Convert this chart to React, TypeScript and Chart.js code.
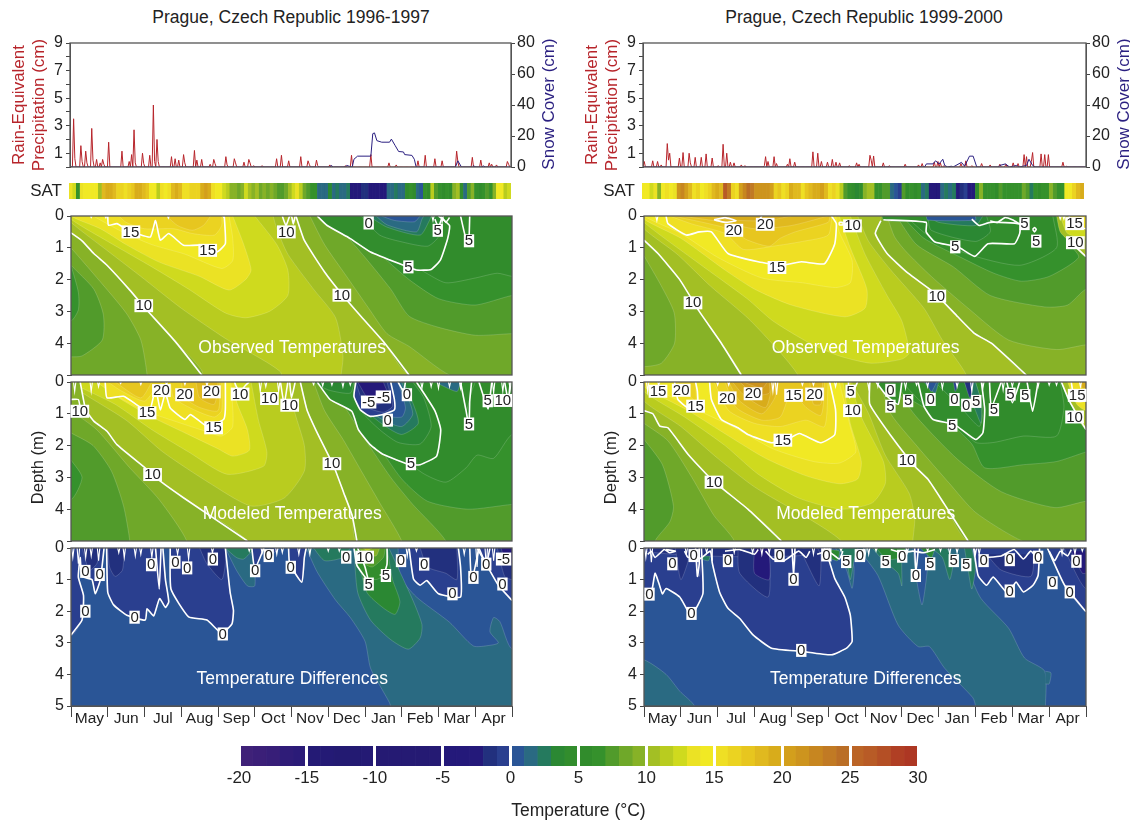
import React, { useEffect, useRef } from "react";
import { Chart, registerables } from "chart.js";
Chart.register(...registerables);

const FONT = "'Liberation Sans', Arial, sans-serif";
const months = ["May","Jun","Jul","Aug","Sep","Oct","Nov","Dec","Jan","Feb","Mar","Apr"];

// one colour per degree, -20 .. 29
const bandColors = [
"#3f2178","#3b1f78","#371e78","#2f1c78","#2b1b78",
"#241a75","#241a75","#231a72","#231a72","#241a74",
"#251a73","#251a73","#251a73","#251a73","#251a73",
"#24197a","#24197a","#24197a","#22307e","#2a3f8f",
"#2a5596","#2a6a82","#257a5e","#2b8833","#328d2d",
"#318c2c","#35912c","#519b2b","#6fa829","#87b227",
"#a3bf24","#b9cc1f","#cfda1e","#ebe224","#f1e924",
"#efdf24","#ebd321","#e7c61f","#e0b91f","#d8ac1b",
"#d39f1c","#cd941e","#c78620","#c17a24","#ba6e26",
"#bb6426","#b85b26","#b44f25","#b03f24","#ad3723"];
const colorOf = (t:number)=>bandColors[Math.max(0,Math.min(49,Math.floor(t)+20))];

// sparse [day, cm] rain-equivalent precipitation
const precip96 = [[3,3.5],[4,.6],[9,1.55],[10,.4],[13,1.15],[14,.3],[18,2.8],[19,.5],[22,.55],[25,.3],[27,.55],[28,.2],[32,1.8],[43,1.15],[49,.4],[51,.9],[53,2.7],[54,.3],[60,1.0],[61,.25],[66,.85],[69,4.5],[70,.4],[72,2.0],[73,.4],[84,.75],[87,.6],[90,.5],[94,.9],[95,.3],[103,1.2],[105,.5],[109,.55],[116,.2],[119,.55],[120,.25],[129,.75],[130,.15],[136,.6],[137,.3],[144,.35],[148,.55],[149,.3],[152,.1],[159,.1],[171,.6],[175,.85],[181,.45],[191,.75],[197,.45],[198,.2],[204,.5],[205,.1],[215,.15],[228,.1],[233,.85],[249,.9],[264,.3],[270,.15],[288,.45],[294,.85],[302,.6],[308,.45],[320,1.15],[321,.4],[333,.7],[340,.5],[347,.3],[349,.2],[353,.15],[362,.4],[363,.2]];
const precip99 = [[1,.4],[8,.45],[12,.4],[15,.15],[20,1.7],[21,.5],[22,1.0],[30,.65],[33,1.05],[38,1.0],[39,.3],[43,.7],[48,.7],[52,.95],[57,.65],[62,.1],[66,1.65],[69,1.0],[72,.35],[75,.3],[81,.15],[84,.1],[100,.1],[101,.75],[103,.4],[108,.75],[110,.25],[119,.2],[121,.6],[125,.35],[140,1.1],[144,1.0],[147,.4],[152,.35],[156,.55],[159,.35],[162,.3],[170,.1],[176,.3],[178,.2],[187,.85],[188,.5],[190,.8],[198,.3],[203,.1],[216,.2],[227,.15],[230,.25],[240,.35],[243,.4],[245,.3],[248,.1],[262,.25],[266,.45],[271,.1],[279,.25],[286,.15],[294,.2],[299,.2],[305,.3],[309,.25],[314,.9],[316,.75],[320,.4],[321,1.05],[328,.95],[331,.9],[334,.9],[346,.35],[349,.05]];
// [day, cm] snow cover
const snow96 = [[0,0],[215,0],[216,1],[218,0],[228,0],[229,1],[231,.5],[233.6,0],[235,5],[238,7],[249,7],[250.6,21.5],[252,22],[254,17],[258,16],[264.5,16],[266,18],[269,14],[272,10],[276,9.7],[277,8],[283,7.5],[285,5],[286.5,0],[319,0],[321,4],[324,0],[333,0],[334,.7],[336,0],[341,0],[342,.7],[344,0],[365,0]];
const snow99 = [[0,0],[232,0],[233.5,2],[239,2],[241,4],[244,2],[247,5],[248.6,1],[251,0],[254,.5],[255.5,0],[262.4,3],[265,.5],[269,7],[272,7],[275,0],[293,0],[294,1],[298.6,2],[302,0],[307.7,1],[310,0],[316,1],[318,5],[321,1],[323,0],[365,0]];
// surface air temperature, one value per three days
const sat96 = [13,12,6,13,14,14,14,14,10,18,19,19,18,16,16,15,16,17,19,19,18,17,14,14,11,15,14,15,18,19,18,15,15,16,16,16,19,20,19,15,14,14,12,11,9,9,8,9,12,10,9,10,8,9,8,9,8,7,
7,8,10,12,13,11,8,7,6,6,1,1,1,3,1,2,1,1,2,-3,-4,-4,-2,-2,-3,-4,-5,-4,-4,1,1,2,1,1,5,6,5,1,0,6,5,11,7,6,5,6,5,9,10,4,1,7,9,6,5,6,7,6,9,14,14,11,12];
const sat99 = [14,14,12,13,9,14,15,14,13,21,22,20,18,15,16,14,15,16,18,19,18,26,23,16,15,20,22,24,23,21,21,21,21,20,16,17,15,16,19,18,18,15,17,18,19,19,20,18,15,16,13,11,7,6,4,3,4,9,10,10,
6,6,7,7,1,0,-1,7,4,6,5,6,1,2,-3,-3,-4,1,2,1,2,-3,-2,-1,-3,-4,5,9,6,6,6,5,7,6,6,6,6,6,8,7,2,6,5,6,6,9,7,6,6,14,14,16,18,19];

// Isotherms: flat month, depth lists
const c15A = [1,0,1.02,.29,1.25,.24,1.48,.4,1.8,.55,2.16,.66,2.3,.14,2.43,.76,2.66,.55,3.06,.92,3.5,.92,3.97,1.13,4.2,.87,4.17,0];
const c10LA = [0,.53,.3,.78,.62,1.18,.98,1.55,1.6,2.33,2.02,2.9,2.84,3.95,3.56,5];
const c10RA = [6.12,0,6.35,.77,6.9,1.76,7.4,2.5,7.9,3.17,8.5,3.95,9.2,5];
const c5A = [6.7,0,6.96,.29,7.6,.71,8.15,1.13,9.05,1.55,9.4,1.7,9.8,1.68,10.05,1.39,10.25,.71,10.3,.3,10,0];
const bandsA: [number,number[]][] = [
[10,[-1,-1,13,-1,13,6,-1,6]],
[11,[-1,-1,0,.2,1,1.1,1.9,1.9,3,2.9,4.2,3.85,5.7,4.9,5.75,5.5,7.3,5.5,7.35,5,7.4,4.4,7.2,3.2,6.6,2.3,5.9,1.2,5.6,.4,5.5,0]],
[12,[-1,-1,0,.1,1,.8,2.2,1.6,3.2,2.3,4.2,3.05,4.75,3.2,5.4,3,5.9,2.5,5.9,1.7,5.6,.9,5,0]],
[13,[-1,-1,0,0,.8,.4,1.5,.9,2.4,1.45,3.5,1.9,4.3,2.33,4.75,2,4.9,1.7,4.7,.9,4.4,0]],
[14,[.6,0,1.4,.5,2.2,.9,3.1,1.2,4.1,1.65,4.4,1.4,4.4,.7,4.3,0]],
[15,c15A],
[16,[1.3,0,1.5,.2,2,.4,2.8,.4,3.3,.55,3.9,.6,4.1,.3,4.1,0]],
[17,[2.6,0,2.9,.3,3.3,.45,3.6,.3,3.8,0]],
[9,[...c10RA,13,6,13,-1]],
[8,[6.5,0,6.9,.9,7.5,1.9,8.1,2.9,8.6,3.7,9.2,4.1,10.3,5,13,6,13,-1]],
[7,[7,0,7.4,.5,8,1.3,8.7,2.3,9.2,3.15,10,3.5,11,3.75,12,3.7,13,3.7,13,-1]],
[6,[7.2,0,7.8,.6,8.5,1.3,9.2,2,10,2.6,11,2.8,12,2.5,13,2.4,13,-1]],
[5,[7.3,0,8,.6,8.8,1.2,9.6,1.75,10.2,2.1,11,1.95,11.6,1.8,12,1.9,13,2,13,-1]],
[4,c5A],
[3,[7.9,0,8.4,.6,8.95,.8,9.7,.95,10,.65,10.1,0]],
[2,[8.1,0,8.6,.35,9.5,.6,9.75,.15,9.8,0]],
[1,[8.3,0,8.6,.28,9.4,.5,9.55,.1,9.6,0]],
[0,[8.45,0,8.8,.14,9.35,.18,9.5,0]],
[9,[...c10LA,-1,6,-1,.53]],
[8,[0,1,.6,1.8,1.5,3.05,1.9,3.9,2.07,5,2.1,6,-1,6,-1,1]],
[7,[0,1.55,.62,2.3,.88,3.1,.85,3.9,.3,4.4,0,4.43,-1,4.5,-1,1.5]],
[6,[0,1.55,.2,2.4,.2,2.95,0,3.3,-1,3.5,-1,1.5]],
];
const linesA = [c15A,c10LA,c10RA,c5A,[5.75,0,5.85,.3,5.95,0,6,0,6.05,.25,6.1,0],[10.6,0,10.72,.6,10.82,.9,10.85,0],[9.9,.1,10,.35,10.1,.05,10.2,.2,10.3,.05]];
const spikesA = [[.55,.05],[.95,.06],[2.65,.07],[4.15,.04],[9.85,.15],[10.1,.2]];
const labelsA: [number,number,string][] = [[1.63,.5,"15"],[3.72,1.08,"15"],[5.86,.5,"10"],[7.37,2.49,"10"],[1.98,2.82,"10"],[8.1,.22,"0"],[9.98,.45,"5"],[10.83,.78,"5"],[9.18,1.6,"5"]];

const c15B = [.93,0,.98,.5,1.43,.45,1.9,.8,2.15,.87,2.3,.2,2.43,.87,2.57,.35,2.7,.82,3.1,1.18,3.25,1.02,3.7,1.39,4.15,1.18,4.2,.87,4.2,0];
const c10LB = [.25,0,.4,.87,.62,1.23,.98,1.55,1.25,1.97,2.07,2.75,2.43,3.12,3.06,3.64,4.8,5];
const c10RB = [6.24,0,6.42,.87,6.7,1.6,7.15,2.65,7.42,3.48,7.65,4.2,7.78,5];
const c5B = [6.7,0,7.05,.55,7.64,.92,7.82,1.5,8.14,1.97,8.5,2.28,9.23,2.6,9.5,2.6,9.95,2.33,10.06,1.5,9.9,.9,9.4,0];
const c0B = [7.75,0,7.7,.45,7.87,.87,8.14,1.08,8.5,1.02,8.8,.87,8.8,.55,8.7,0];
const bandsB: [number,number[]][] = [
[10,[-1,-1,13,-1,13,6,-1,6]],
[11,[-1,-1,0,.1,1.5,1.2,2.5,2.2,3.8,3.2,4.9,3.9,5.8,3.65,6.35,2.8,6.35,2,6.1,1,5.9,0]],
[12,[-1,-1,0,0,1.2,.7,2.2,1.5,3.2,2.2,4.24,2.9,5.24,2.65,5.33,2.2,5.1,1.2,4.9,0]],
[13,[.7,0,1.3,.5,2.2,1.1,3.1,1.6,4,2.1,4.4,2.33,4.85,2.15,4.8,1.5,4.5,.6,4.45,0]],
[14,[.9,0,1.2,.4,2,.9,3,1.3,3.8,1.6,4.1,1.7,4.4,1.4,4.35,0]],
[15,c15B],
[16,[1,0,1.4,.3,2,.6,2.3,.2,2.5,0]],
[16,[2.7,0,2.8,.5,3.4,.9,3.9,1.1,4.1,.9,4.1,0]],
[17,[3,0,3.1,.5,3.5,.8,4,.9,4.05,0]],
[17,[1.2,0,1.9,.5,2.2,0]],
[18,[3.4,0,3.5,.5,3.9,.7,4,0]],
[9,[...c10RB,13,6,13,-1]],
[8,[6.6,0,6.9,.9,7.4,1.8,7.9,2.8,8.4,3.8,9,5,9.2,6,13,6,13,-1]],
[7,[6.9,0,7.4,.7,8,1.8,8.7,3,9.3,3.85,10.2,5,10.4,6,13,6,13,-1]],
[6,[7.05,0,7.6,.8,8.3,1.9,9,3.05,9.7,3.75,10.8,4,12,3.85,13,3.8,13,-1]],
[5,[7.4,0,7.9,.8,8.7,2,9.55,2.85,10.2,3.15,10.75,2.7,11.05,2.3,11.5,2.4,12,1.65,13,1.4,13,-1]],
[4,c5B],
[4,[10.6,0,10.75,.9,10.9,.3,11,0]],
[3,[7.7,0,7.9,.9,8.4,1.5,8.9,1.9,9.5,1.95,9.8,1.4,9.6,.5,9.3,0]],
[2,[7.72,0,8.05,.9,8.5,1.35,9,1.65,9.45,1.3,9.25,.5,9.05,0]],
[1,[7.72,0,8,.8,8.5,1.2,9,1.4,9.3,1,9,0]],
[0,[7.72,0,8.05,.7,8.5,1.05,9,1.1,9.1,.8,8.9,0]],
[-1,c0B],
[-2,[7.75,0,8,.75,8.5,.95,8.75,.75,8.6,0]],
[-5,[7.8,0,8.2,.7,8.65,.55,8.5,0]],
[3,[6.6,0,7,.25,7.6,.35,7.7,0]],
[1,[9.9,0,10.5,.3,10.6,0]],
[9,[...c10LB,4.9,6,-1,6,-1,0]],
[8,[0,.9,.7,1.5,1.6,2.7,2.4,3.7,3.15,5,3.2,6,-1,6,-1,.9]],
[7,[0,1.6,.6,2,1.1,2.8,1.43,3.9,1.6,5,1.65,6,-1,6,-1,1.6]],
[6,[0,2.45,.3,3,0,3.7,-1,3.8,-1,2.4]],
];
const linesB = [c15B,c10LB,c10RB,c5B,c0B,[0,.55,.2,.55,.25,.8],[10.6,0,10.75,.9,10.83,1.4,10.85,.6,10.9,0],[11.1,0,11.35,.85,11.45,0],[11.8,0,11.9,.6,11.95,0],[5.7,0,5.8,.7,5.9,0],[6.1,0,6,.5,5.95,0],[4.45,0,4.5,.15,4.6,.3,4.75,.1,4.85,0],[8.9,0,9.05,.3,9.1,0]];
const spikesB = [[.1,.3],[.55,.3],[.75,.15],[1.35,.05],[1.9,.08],[2.6,.1],[3.1,.08],[3.7,.12],[5.15,.3],[5.3,.15],[5.65,.3],[6.6,.08],[6.85,.12],[7.1,.1],[7.4,.15],[7.6,.1],[9.55,.2],[9.8,.15],[10,.2],[10.3,.15],[10.6,.2],[11.5,.35],[11.75,.3],[11.95,.25]];
const labelsB: [number,number,string][] = [[.24,.92,"10"],[2.07,.97,"15"],[2.46,.27,"20"],[3.09,.4,"20"],[3.82,.31,"20"],[3.88,1.44,"15"],[4.6,.38,"10"],[5.4,.52,"10"],[5.95,.73,"10"],[7.1,2.57,"10"],[2.22,2.91,"10"],[8.1,.63,"-5"],[8.5,.47,"-5"],[9.14,.4,"0"],[8.62,1.2,"0"],[10.83,1.32,"5"],[11.34,.59,"5"],[11.75,.58,"10"],[9.25,2.57,"5"]];

const z1C = [-1,-1,0,2.75,.3,2.28,.34,1.5,.2,.92,.25,.3,.3,.9,.57,1,.66,1.45,.8,1,.9,0];
const z2C = [.97,0,1,1.4,1.16,1.8,1.52,2.13,2.02,2.28,2.07,1.92,2.25,2.15,2.41,1.6,2.57,1.88,2.66,1.7,2.57,1,2.5,0];
const z3C = [2.7,0,2.72,1.3,3.2,2.18,3.7,2.28,4.1,2.7,4.38,2.4,4.42,1.97,4.33,1.4,4.2,0];
const z4C = [9.2,0,9.32,.98,9.5,1.18,9.68,1.03,10,1.45,10.6,1.55,10.6,.6,10.54,0];
const z5C = [11.05,0,11.63,1.18,12,1.66,13,2,13,-1];
const z6C = [5.92,0,5.95,.5,6.28,1.08,6.35,.3,6.4,0];
const bandsC: [number,number[]][] = [
[0,[-1,-1,13,-1,13,6,-1,6]],
[1,[6.4,0,6.7,.76,7.2,1.65,7.6,2.2,8,2.95,8.15,3.8,8.5,4.55,8.7,5,8.75,6,13,6,13,3.3,12,3.2,11.67,2.33,11.5,2.2,11.4,2.65,11.63,3,11.4,3.08,10.95,3.1,10.3,2.35,9.4,1.55,8.95,.9,8.9,0]],
[1,[4.2,0,4.5,.7,4.8,1.2,5,1.2,5,.5,5.1,0]],
[2,[7.7,0,7.8,1.4,8.15,2.28,8.7,2.9,9.18,3.2,9.5,2.85,9.55,2.43,9.32,1.7,8.87,.55,8.65,0]],
[2,[4.2,0,4.5,.3,4.7,.35,5,0]],
[2,[6.6,0,6.9,.4,7.4,.3,7.6,0]],
[3,[7.75,0,8.05,1.4,8.5,1.9,8.82,2.1,8.95,1.7,8.75,1,8.6,0]],
[4,[7.72,0,7.78,.55,8,.92,8.3,1,8.5,.87,8.6,.5,8.6,0]],
[7,[7.78,0,8,.5,8.2,.6,8.5,.3,8.55,0]],
[9,[7.85,0,8,.2,8.3,.25,8.4,0]],
[11,[7.95,0,8.05,.08,8.2,0]],
[-1,z1C],[-1,z2C],[-1,z3C],[-1,z4C],[-1,z5C],[-1,z6C],
[-1,[4.92,0,5,.66,5.25,0]],[-1,[5.4,0,5.5,.15,5.7,0]],
[-2,[1,0,1.05,.6,1.2,.9,1.4,.7,1.45,0]],
[-2,[3.5,0,3.7,.5,4.1,1,4.2,.5,4.2,0]],
[-2,[9.5,0,9.7,.6,10.2,.8,10.5,1,10.5,0]],
[-2,[11.6,0,11.8,.9,12,1,13,1,13,-1]],
[-2,[.3,0,.5,.7,.7,.5,.8,0]],
[-3,[11.7,0,11.85,.5,12,.5,13,.5,13,-1]],
];
const linesC = [z1C.slice(2),z2C,z3C,z4C,z5C.slice(0,6),z6C,[4.92,0,5,.66,5.25,0],[7.7,0,7.78,.55,8,.92,8.1,1.1,8,.6,7.8,0],[8.4,.85,8.5,.87,8.6,.5,8.6,0],[10.85,0,10.9,1.08,11.1,0],[11.1,0,11.3,.5,11.4,0],[2.3,0,2.4,1.3,2.45,0]];
const spikesC = [[.05,.3],[.2,.5],[.4,.3],[.55,.25],[.75,.4],[1.3,.15],[1.45,.3],[1.75,.25],[1.9,.2],[2.2,.3],[2.9,.2],[3.2,.35],[3.85,.15],[4.85,.1],[5.2,.15],[5.6,.2],[5.75,.15],[6.2,.2],[6.5,.2],[7,.1],[7.3,.1],[9.15,.25],[9.4,.1],[10.7,.2],[11.05,.6],[11.3,.6],[11.5,.4]];
const labelsC: [number,number,string][] = [[.39,.74,"0"],[.78,.84,"0"],[.39,2,"0"],[2.18,.53,"0"],[1.73,2.19,"0"],[2.84,.45,"0"],[3.16,.63,"0"],[3.86,.35,"0"],[4.13,2.72,"0"],[5.01,.72,"0"],[5.38,.24,"0"],[5.98,.61,"0"],[7.49,.29,"0"],[7.99,.29,"10"],[8.1,1.14,"5"],[8.57,.87,"5"],[8.98,.4,"0"],[9.61,.51,"0"],[10.38,1.45,"0"],[10.95,.93,"0"],[11.3,.51,"0"],[11.74,1.14,"0"],[11.77,.35,"-5"]];

const c15D = [.6,0,.65,.24,1.15,.6,1.5,.5,1.83,.5,2.28,1.18,3.1,1.44,3.73,1.55,4.27,1.44,4.9,1.5,5.18,.87,5.22,.24,5.09,0];
const c10LD = [0,.76,.38,1.18,.97,2,1.5,3,2.1,4,2.64,5];
const c10RD = [6.43,.15,6.28,.55,6.6,1.18,7.17,1.8,7.9,2.43,8.52,3.17,8.98,3.7,9.43,4,10.38,5];
const c5D = [6.5,.12,7.66,.2,7.66,.5,7.9,.82,8.52,.97,8.98,1.27,9.34,.87,10.06,.87,10.2,.55,10.2,.25,9.4,.2,9.1,.3,8.9,.1];
const bandsD: [number,number[]][] = [
[10,[-1,-1,13,-1,13,6,-1,6]],
[11,[-1,-1,0,.4,.9,1.2,1.8,2.2,2.9,3.3,4.18,5,4.3,6,8.9,6,8.75,5,8.1,3.9,7.6,2.9,6.7,1.7,6.1,.8,5.8,0]],
[12,[-1,-1,0,.2,1.5,1.5,2.8,2.6,3.5,3.3,4.5,4,5.3,4.4,6.17,4.63,7,4.5,7.2,4.3,7,3.3,6.6,2.5,6,1.2,5.6,0]],
[13,[-1,-1,0,.1,1,.7,2.2,1.7,3,2.3,4,2.8,5.45,3.17,6,2.9,6.05,2.3,5.6,1,5.3,0]],
[14,[-1,-1,0,0,1,.55,2,1.3,3.2,1.95,4.3,2.1,5.2,2.25,5.6,2.1,5.65,1.4,5.3,.5,5.2,0]],
[15,c15D],
[16,[.7,0,1.3,.25,2.2,.55,2.7,1.05,3.5,.95,4.3,.8,5,.6,5.1,0]],
[17,[.8,0,2.3,.4,2.8,.75,3.4,.95,3.7,.7,4.1,.5,5,.2,5.05,0]],
[18,[1,0,2.2,.2,3,.4,4,.3,5,0]],
[19,[1.8,0,2.3,.12,3.3,.15,4,0]],
[9,[6.43,-.5,...c10RD,13,6,13,-1]],
[8,[6.6,0,6.8,.65,7.1,1.1,7.8,1.9,8.8,2.9,9.9,3.9,11.2,4.2,12,4.05,13,4,13,-1]],
[7,[6.85,0,7.4,.9,8.4,1.6,9.4,2.5,10.88,2.86,11.5,2.8,12,2.3,13,2,13,-1]],
[6,[7,0,7.6,.7,8.6,1.3,9.5,1.8,10.24,2.05,11,1.9,11.8,1.3,11.5,.8,11.3,0]],
[5,[7.1,0,7.7,.6,8.8,1.2,10.2,1.55,11.2,1,11.1,0]],
[4,[6.5,-.5,...c5D]],
[3,[7.7,0,7.8,.45,9,.8,9.4,.5,9.3,0]],
[2,[7.7,0,8,.2,9,.3,9.2,0]],
[0,[7.66,0,7.7,.13,9,.13,9,0]],
[10,[11.2,0,11.3,.5,11.55,.8,12,1.28,13,1.5,13,-1]],
[12,[11.3,0,11.5,.55,12,.7,13,.7,13,-1]],
[15,[11.55,0,11.55,.3,12,.4,13,.4,13,-1]],
[9,[...c10LD,2.7,6,-1,6,-1,.76]],
[8,[0,1.25,.47,2.2,.82,3.05,.83,4,.47,4.63,0,4.74,-1,4.8,-1,1.2]],
];
const linesD = [c15D,c10LD,c10RD,c5D,[11.53,.76,12,1.28],[11.55,0,11.55,.3,12,.4],[1.9,.12,2.2,.2,2.5,.15,2.2,.05,1.9,.12],[3.2,0,3.1,.18,3.3,.25],[9.4,.15,9.6,.2,9.8,.05,10,.12,10.2,.25],[10.55,.42,10.6,.5,10.65,.42,10.6,.36,10.55,.42],[5.3,.2,5.4,.2,5.4,.28,5.3,.28,5.3,.2]];
const spikesD = [[.35,.15],[11.4,.1],[11.3,.1]];
const labelsD: [number,number,string][] = [[2.44,.45,"20"],[3.29,.26,"20"],[3.61,1.62,"15"],[5.66,.31,"10"],[1.33,2.73,"10"],[7.95,2.52,"10"],[10.33,.24,"5"],[8.45,.97,"5"],[10.65,.79,"5"],[11.69,.24,"15"],[11.71,.84,"10"]];

const c15E1 = [.83,0,.92,.55,1.2,.82,1.45,.82,1.45,.3,1.4,0];
const c15E2 = [1.78,0,1.83,.55,2.1,1.18,2.55,1.44,2.82,1.65,3.46,1.91,3.9,1.8,4.22,1.62,4.8,1.91,5.18,1.65,5.2,.87,5.04,0];
const c10LE = [0,.9,.24,1,.43,1.39,.65,1.44,1.2,2.28,1.83,3.06,2.82,4,3.73,5];
const c10RE = [6.13,0,6.13,.7,6.71,1.7,7.35,2.65,7.71,3.06,8.16,3.85,8.8,5];
const c5E = [7.44,0,7.6,.76,7.85,1.18,8.43,1.34,9,1.81,9.2,1.6,9.25,.87,9.16,0];
const bandsE: [number,number[]][] = [
[10,[-1,-1,13,-1,13,6,-1,6]],
[11,[-1,-1,0,.6,1,1.4,2,2.4,3,3.3,5.36,5,5.4,6,7.3,6,7.3,5,7.35,4.3,7.2,3.5,6.55,2.3,6.1,1,5.63,0]],
[12,[-1,-1,0,.3,1.1,1.1,2.2,2,3.1,2.9,4.2,3.65,5.36,4,6.2,3.8,6.55,3.2,6.5,2.5,5.9,1.1,5.6,0]],
[13,[-1,-1,0,.15,1.2,.9,2.3,1.7,3.3,2.4,4.4,2.95,5.3,3.2,5.8,3.05,5.9,2.5,5.6,1.3,5.4,0]],
[14,[-1,-1,0,0,1.3,.8,2.4,1.4,3.5,2.1,4.6,2.5,5.3,2.55,5.75,2.2,5.6,1.4,5.3,0]],
[15,c15E1],[15,c15E2],
[16,[.9,0,1.4,.6,1.4,0]],
[16,[1.9,0,2.3,.9,3,1.3,3.7,1.4,4.4,1.2,4.9,1.4,5,0]],
[17,[2.2,0,2.5,.8,3.2,1.2,3.7,1.1,4,.3,4.4,.8,4.8,1.05,4.9,.3,4.9,0]],
[18,[2.3,0,2.6,.6,3.2,1,3.55,.5,3.6,0]],[18,[4.5,0,4.6,.7,4.8,.7,4.85,0]],
[19,[2.4,0,2.7,.4,3.3,.8,3.5,0]],
[20,[2.6,0,3,.4,3.4,.35,3.4,0]],
[21,[2.7,0,3.2,.2,3.35,0]],
[9,[...c10RE,13,6,13,-1]],
[8,[6.4,0,6.7,1,7.4,2,8.3,3.2,9,4.1,10.27,5,13,6,13,-1]],
[7,[6.7,0,7.4,1.1,8.52,2.44,9.7,3.45,11.15,3.95,12,3.75,13,3.7,13,-1]],
[6,[6.8,0,7.1,.45,8.2,1.2,8.9,1.95,9.25,2.7,10.3,2.6,11.2,2.5,12,2.2,13,1.9,13,-1]],
[5,[7,0,7.6,.7,8.5,1.3,9,1.9,9.5,1.9,10.3,1.7,11.2,1.7,11.4,.8,11.3,0]],
[4,c5E],[4,[6.3,0,6.6,.45,6.9,.7,7,0]],[4,[9.38,0,9.43,.8,9.7,0]],
[3,[7.9,0,8.6,.8,9.1,1.4,9.2,.9,9,0]],
[1,[7.6,0,7.9,.35,8,0]],[2,[8.7,0,9,.9,9.15,1.3,9.15,.6,9,0]],
[0,[7.65,0,7.8,.3,7.95,0]],[-1,[8.4,0,8.45,.3,8.55,0]],[-2,[8.7,0,8.85,.5,8.95,0]],
[10,[11.33,0,11.55,.6,12,1.5,13,1.8,13,-1]],
[13,[11.5,0,11.75,.7,12,.9,13,.9,13,-1]],
[15,[11.6,0,11.7,.6,12,.6,13,.6,13,-1]],
[19,[11.85,0,11.9,.2,12,.2,13,.2,13,-1]],
[9,[...c10LE,3.9,6,-1,6,-1,.9]],
[8,[0,1.3,.65,1.85,1.3,3,1.9,4.2,2.45,5,2.5,6,-1,6,-1,1.3]],
[7,[0,1.8,.5,2.6,.8,3.9,.7,4.4,.3,5,.1,6,-1,6,-1,1.8]],
];
const linesE = [c15E1,c15E2,c10LE,c10RE,c5E,[6.3,0,6.6,.45,6.9,.7,7,0],[9.38,0,9.43,.8,9.7,0],[9.85,0,10,.65,10.2,0],[10.4,0,10.55,.92,10.7,0],[11.33,0,11.55,.6,12,1.5],[11.6,0,11.7,.6,12,.6],[5.55,0,5.58,.5,5.8,0]];
const spikesE = [[.1,.3],[.4,.1],[2,.1],[2.3,.1],[3.5,.3],[3.6,.4],[4.3,.1],[4.6,.1],[5.2,.15],[6.1,.2],[6.35,.15],[7.1,.2],[7.4,.1],[7.7,.15],[8.1,.2],[8.5,.15],[8.9,.3],[9.2,.2],[9.75,.25],[10,.15],[10.7,.15],[11,.1],[11.2,.1],[11.85,.15]];
const labelsE: [number,number,string][] = [[.38,.29,"15"],[1.01,.26,"20"],[1.4,.76,"15"],[2.26,.5,"20"],[2.96,.37,"20"],[4.06,.42,"15"],[4.63,.38,"20"],[3.77,1.83,"15"],[5.61,.29,"5"],[5.66,.9,"10"],[1.9,3.15,"10"],[7.14,2.47,"10"],[6.69,.26,"0"],[7.17,.59,"5"],[6.69,.76,"5"],[7.78,.55,"0"],[8.43,.55,"0"],[8.75,.73,"0"],[9.02,.61,"5"],[9.5,.87,"5"],[9.95,.38,"5"],[10.35,.43,"5"],[8.37,1.36,"5"],[11.76,.42,"15"],[11.69,1.1,"10"]];

const z1F = [-1,-1,0,1.5,.2,1.4,.3,.8,.4,1.1,.5,1.45,.6,1.28,.97,1.55,1.2,2,1.33,2.07,1.6,1.44,1.56,0];
const z2F = [1.85,0,1.85,.45,2.05,1.39,2.28,1.91,2.6,2.23,2.96,2.75,3.46,3.17,4.27,3.27,5.09,3.38,5.5,3.17,5.65,2.96,5.6,2.12,5.45,1.55,5.18,.97,5.04,.45,4.9,0];
const z3F = [8.95,0,9.07,.87,9.3,1.18,9.48,.92,9.88,1.44,10.1,1.08,10.3,1.39,10.56,1.18,10.7,.87,10.74,0];
const z4F = [10.95,0,11.42,1.18,12,2.02,13,2.5,13,-1];
const bandsF: [number,number[]][] = [
[0,[-1,-1,13,-1,13,6,-1,6]],
[1,[5.8,0,6.35,.87,6.9,2.44,7.44,3.12,7.75,3.12,8.16,3.8,8.93,4.74,9,5,9.1,6,10.9,6,10.9,5,10.88,3.9,10.33,3.48,9.9,2.54,9.15,1.6,8.88,.87,8.88,0]],
[1,[5.2,0,5.5,.7,5.65,1.28,5.7,.6,5.5,0]],
[1,[-1,3.4,0,3.54,.6,4,.97,4.53,1.37,5,1.5,6,-1,6]],
[1,[10.9,3.9,11.05,3.95,11,4.3,10.9,4.3]],
[0,[7.3,0,7.4,1,7.55,1.8,7.7,.6,7.7,0]],
[2,[5.3,0,5.5,.4,5.6,1,5.7,.4,5.8,0]],
[2,[6.2,0,6.5,.4,6.9,.8,7,1.2,7,.4,7.1,0]],
[2,[7.8,0,8.1,.3,8.3,1,8.4,.3,8.2,0]],
[2,[8.7,0,8.8,.7,8.9,1.3,9,.6,8.9,0]],
[3,[6.3,0,6.6,.35,7,.3,7.1,0]],
[3,[7.5,0,7.8,.3,7.9,0]],
[2,[.3,.05,.55,.1,.5,.35,.35,.35]],[2,[1.5,.05,1.8,.1,1.75,.4,1.55,.35]],[2,[3.85,.05,4.2,.1,4.1,.4,3.9,.35]],[3,[5.05,.05,5.3,.1,5.25,.4,5.1,.35]],[2,[10.3,.1,10.55,.1,10.5,.4,10.35,.35]],[2,[11,.1,11.2,.1,11.15,.35,11.05,.35]],
[-1,z1F],[-1,z2F],[-1,z3F],[-1,z4F],
[-1,[4.1,0,4.06,.9,4.15,0]],[-1,[7.35,0,7.38,.8,7.45,0]],[-1,[1.4,0,1.5,.9,1.6,0]],
[-2,[-1,-1,0,.1,5,.15,5,-1]],
[-2,[.85,0,1,1,1.2,.4,1.2,0]],
[-2,[2.55,0,2.6,.8,3.37,1.55,3.4,0]],
[-2,[4.3,.2,4.75,1.2,4.8,.3,4.7,0,4.3,0]],
[-2,[9.3,.2,9.7,.7,10.5,.9,10.6,.2]],
[-2,[11.4,0,12,1.3,13,1.5,13,-1]],
[-3,[3,0,3,.8,3.4,1,3.4,0]],
[-3,[11.6,.1,11.9,.8,12,.8,13,.8,13,.1]],
];
const linesF = [z1F.slice(2),z2F,z3F,z4F.slice(0,6),[4.02,0,4.06,.9,4.1,0],[7.35,0,7.38,.8,7.45,0],[1.4,0,1.45,.9,1.5,.5,1.5,0],[.1,.2,.2,.1,.3,.3,.55,.05,.7,.15,.85,.1,.6,.05],[1.1,.1,1.2,.3,1.4,.15,1.5,.35,1.8,.1,1.85,.4],[2.2,.1,2.6,.05,3,.2,3.1,.05],[3.3,.1,3.5,.35,3.8,.4,4.2,.1,4.4,.3,4.5,.1],[4.7,.2,5,.1,5.3,.35,5.4,.1],[9.25,.3,9.7,.25,10.05,.05,10.3,.35,10.5,.1,10.7,.35],[11,.1,11.15,.4,11.3,.1,11.5,.25,11.6,.05],[6.7,.05,7,.15,7.3,.1,7.6,.15,7.9,.05]];
const spikesF = [[.05,.3],[.2,.45],[1.15,.2],[1.7,.15],[2.45,.15],[2.95,.15],[3.2,.2],[3.4,.15],[4.6,.2],[5,.2],[5.35,.1],[6,.3],[6.1,.2],[6.3,.1],[7.15,.15],[7.7,.1],[8.05,.1],[8.3,.2],[8.5,.15],[9,.2],[9.1,.2],[11.35,.2],[11.7,.2],[11.9,.1]];
const labelsF: [number,number,string][] = [[.77,.5,"0"],[.15,1.46,"0"],[1.35,.24,"0"],[1.29,2.07,"0"],[2.28,.4,"0"],[3.68,.24,"0"],[4.06,.99,"0"],[4.95,.22,"0"],[4.27,3.24,"0"],[5.49,.43,"5"],[5.86,.24,"0"],[6.56,.43,"5"],[7.01,.26,"0"],[7.38,.87,"0"],[7.77,.5,"5"],[8.41,.4,"5"],[8.75,.53,"5"],[9.22,.4,"0"],[9.93,.37,"0"],[9.93,1.36,"0"],[10.7,.29,"0"],[11.09,1.1,"0"],[11.56,1.39,"0"],[11.74,.42,"0"]];

const toPts = (a:number[]) => { const o:any[]=[]; for(let i=0;i<a.length;i+=2) o.push({x:a[i],y:a[i+1]}); return o; };
const hexA = "rgba(255,255,255,0.28)";

function contourDatasets(bands:[number,number[]][], lines:number[][], spikes:number[][]) {
  const ds:any[] = [];
  bands.forEach(([t,pts],i)=>ds.push({data:toPts(pts),fill:"shape",backgroundColor:colorOf(t),borderColor:i===0?"transparent":hexA,borderWidth:i===0?0:.6,tension:.22,pointRadius:0}));
  lines.forEach(l=>ds.push({data:toPts(l),fill:false,borderColor:"#fff",borderWidth:1.6,tension:.15,pointRadius:0}));
  spikes.forEach(([x,d])=>ds.push({data:[{x:x-.035,y:-.03},{x,y:d},{x:x+.035,y:-.03}],fill:false,borderColor:"#fff",borderWidth:1.1,tension:0,pointRadius:0}));
  const n=ds.length; ds.forEach((d,i)=>{d.order=n-i;});
  return ds;
}

const framePlugin = { id:"frame", afterDatasetsDraw(c:any){ const a=c.chartArea,x=c.ctx; x.save(); x.strokeStyle="#555"; x.lineWidth=1.3; x.strokeRect(a.left,a.top,a.width,a.height); x.restore(); } };
const labelPlugin = (labels:[number,number,string][],caption:string|null)=>({ id:"clabels", afterDatasetsDraw(c:any){
  const x=c.ctx; const sx=c.scales.x, sy=c.scales.y; x.save(); x.font=`15px ${FONT}`; x.textAlign="center"; x.textBaseline="middle";
  labels.forEach(([m,d,s])=>{ const px=sx.getPixelForValue(m),py=sy.getPixelForValue(d); const w=x.measureText(s).width+2; x.fillStyle="#fff"; x.fillRect(px-w/2,py-6.5,w,13); x.fillStyle="#222"; x.fillText(s,px,py+.5); });
  if(caption){ x.font=`17.5px ${FONT}`; x.fillStyle="#fff"; x.fillText(caption,sx.getPixelForValue(6.02),sy.getPixelForValue(4.15)); }
  x.restore(); } });
const snowTitlePlugin = { id:"snowTitle", afterDraw(c:any){ const a=c.chartArea,x=c.ctx; x.save(); x.translate(a.right+38,(a.top+a.bottom)/2-1); x.rotate(-Math.PI/2); x.font=`17px ${FONT}`; x.fillStyle="#2a1f80"; x.textAlign="center"; x.textBaseline="middle"; x.fillText("Snow Cover (cm)",0,0); x.restore(); } };
const depthTitlePlugin = { id:"depthTitle", afterDraw(c:any){ const a=c.chartArea,x=c.ctx; x.save(); x.translate(a.left-33,(a.top+a.bottom)/2+6); x.rotate(-Math.PI/2); x.font=`16.5px ${FONT}`; x.fillStyle="#222"; x.textAlign="center"; x.textBaseline="middle"; x.fillText("Depth (m)",0,0); x.restore(); } };

function place(cv:HTMLCanvasElement,left:number,top:number,w:number,h:number){ cv.width=w; cv.height=h; cv.style.cssText=`position:absolute;left:${left}px;top:${top}px;width:${w}px;height:${h}px;`; }

function contourChart(cv:HTMLCanvasElement,plotLeft:number,plotRight:number,top:number,bottom:number,bands:any,lines:any,spikes:any,labels:any,caption:string,opt:{bottomAxis?:boolean,depthTitle?:boolean}){
  const W=70, pad=16, xh=opt.bottomAxis?30:0, below=opt.bottomAxis?0:pad;
  place(cv,plotLeft-W,top-pad,W+(plotRight-plotLeft)+8,pad+(bottom-top)+(xh+below));
  const scales:any={
    x:{type:"linear",min:0,max:12,display:!!opt.bottomAxis,afterFit:(s:any)=>{s.height=0;},ticks:{display:false,stepSize:1},border:{color:"#555"},grid:{drawOnChartArea:false,tickLength:11,color:"#444",lineWidth:1}},
    y:{type:"linear",reverse:true,min:0,max:5,afterFit:(s:any)=>{s.width=W;},border:{color:"#555"},
       ticks:{stepSize:1,padding:3,color:"#222",font:{family:FONT,size:16},callback:(v:number)=>(v===5&&!opt.bottomAxis)?"":String(v)},
       grid:{drawOnChartArea:false,tickLength:4,color:"#444"}}
  };
  if(opt.bottomAxis) scales.xm={type:"category",axis:"x",position:"bottom",labels:months,offset:true,afterFit:(s:any)=>{s.height=xh;},border:{display:false},grid:{display:false,drawTicks:false,tickLength:0},ticks:{autoSkip:false,maxRotation:0,padding:3,color:"#222",font:{family:FONT,size:15.5}}};
  const plugins:any[]=[framePlugin,labelPlugin(labels,caption)];
  if(opt.depthTitle) plugins.push(depthTitlePlugin);
  return new Chart(cv,{type:"line",data:{datasets:contourDatasets(bands,lines,spikes)},plugins,
    options:{responsive:false,animation:false,parsing:{xAxisKey:"x",yAxisKey:"y"} as any,layout:{padding:{top:pad,right:8,bottom:below,left:0}},plugins:{legend:{display:false},tooltip:{enabled:false}},elements:{line:{capBezierPoints:false}},scales}} as any);
}

function dailySeries(sparse:number[][]){ const m=new Map(sparse.map(([d,v])=>[d,v])); const o:any[]=[]; for(let d=0;d<=365;d++) o.push({x:d,y:m.get(d)??0}); return o; }

function topChart(cv:HTMLCanvasElement,plotLeft:number,plotRight:number,rain:number[][],snow:number[][]){
  const W=70,R=62,pad=16,top=43,bottom=167;
  place(cv,plotLeft-W,top-pad,W+(plotRight-plotLeft)+R,pad+(bottom-top)+pad);
  return new Chart(cv,{type:"line",data:{datasets:[
    {data:snow.map(([x,y])=>({x,y})),yAxisID:"y2",borderColor:"#2a1f80",borderWidth:1,pointRadius:0,tension:0,order:1},
    {data:dailySeries(rain),yAxisID:"y",borderColor:"#b7252b",borderWidth:1,pointRadius:0,tension:0,order:2}]},
    plugins:[framePlugin,snowTitlePlugin],
    options:{responsive:false,animation:false,layout:{padding:{top:pad,bottom:pad}},plugins:{legend:{display:false},tooltip:{enabled:false}},scales:{
      x:{type:"linear",min:0,max:365,display:false},
      y:{min:0,max:9,position:"left",afterFit:(s:any)=>{s.width=W;},border:{color:"#555"},grid:{drawOnChartArea:false,tickLength:4,color:"#444"},
        ticks:{stepSize:1,padding:3,color:"#222",font:{family:FONT,size:16},autoSkip:false,callback:(v:number)=>v%2===1?String(v):""},
        title:{display:true,text:["Rain-Equivalent","Precipitation (cm)"],color:"#b7252b",font:{family:FONT,size:17,lineHeight:1.18},padding:{top:9,bottom:0}}},
      y2:{min:0,max:80,position:"right",afterFit:(s:any)=>{s.width=R;},border:{color:"#555"},grid:{drawOnChartArea:false,tickLength:4,color:"#444"},
        ticks:{stepSize:20,padding:2,color:"#222",font:{family:FONT,size:16}}}
    }}} as any);
}

function satChart(cv:HTMLCanvasElement,plotLeft:number,plotRight:number,vals:number[]){
  const W=60,pad=22,top=183,bottom=199;
  place(cv,plotLeft-W,top-pad,W+(plotRight-plotLeft)+2,pad*2+(bottom-top));
  return new Chart(cv,{type:"bar",data:{labels:vals.map((_,i)=>String(i)),datasets:[{data:vals.map(()=>1),backgroundColor:vals.map(colorOf),borderColor:vals.map(colorOf),borderWidth:.4,barPercentage:1,categoryPercentage:1}]},
    options:{responsive:false,animation:false,layout:{padding:{top:pad,bottom:pad,right:2}},plugins:{legend:{display:false},tooltip:{enabled:false}},scales:{
      x:{display:false},
      y:{min:0,max:1,afterFit:(s:any)=>{s.width=W;},afterBuildTicks:(s:any)=>{s.ticks=[{value:.5}];},border:{display:false},grid:{display:false,drawTicks:false},
        ticks:{padding:7,color:"#222",font:{family:FONT,size:17},callback:()=>"SAT"}}
    }}} as any);
}

function barChart(cv:HTMLCanvasElement){
  const temps=bandColors.map((_,i)=>i-20);
  place(cv,0,735,1130,87);
  return new Chart(cv,{type:"bar",data:{labels:temps.map(String),datasets:[{data:temps.map(()=>1),xAxisID:"xc",backgroundColor:bandColors,barPercentage:1,categoryPercentage:1,borderWidth:.3,borderColor:bandColors}]},
    options:{responsive:false,animation:false,layout:{padding:{left:239,right:212,top:11,bottom:0}},plugins:{legend:{display:false},tooltip:{enabled:false}},scales:{
      xc:{display:false,type:"category",axis:"x"},
      x:{type:"linear",min:-20,max:30,offset:false,position:"bottom",afterFit:(s:any)=>{s.height=56;},border:{display:false},grid:{z:1,offset:false,color:"#fff",lineWidth:3,drawTicks:false,tickLength:0},
        ticks:{stepSize:5,padding:2,maxRotation:0,color:"#222",font:{family:FONT,size:17}},
        title:{display:true,text:"Temperature (°C)",color:"#222",font:{family:FONT,size:17.5},padding:{top:0,bottom:0}}},
      y:{display:false,min:0,max:1}
    }}} as any);
}

const headingStyle=(cx:number):React.CSSProperties=>({position:"absolute",left:cx-200,top:7,width:400,textAlign:"center",font:`17.5px ${FONT}`,color:"#222",whiteSpace:"nowrap"});

export default function App(){
  const refs=useRef<(HTMLCanvasElement|null)[]>([]);
  useEffect(()=>{
    const r=refs.current as HTMLCanvasElement[];
    const charts=[
      topChart(r[0],70,511,precip96,snow96),
      satChart(r[1],69,511,sat96),
      contourChart(r[2],71,512,216,375,bandsA,linesA,spikesA,labelsA,"Observed Temperatures",{}),
      contourChart(r[3],71,512,382,541,bandsB,linesB,spikesB,labelsB,"Modeled Temperatures",{depthTitle:true}),
      contourChart(r[4],71,512,548,706,bandsC,linesC,spikesC,labelsC,"Temperature Differences",{bottomAxis:true}),
      topChart(r[5],643,1086,precip99,snow99),
      satChart(r[6],642,1084,sat99),
      contourChart(r[7],644,1086,216,375,bandsD,linesD,spikesD,labelsD,"Observed Temperatures",{}),
      contourChart(r[8],644,1086,382,541,bandsE,linesE,spikesE,labelsE,"Modeled Temperatures",{depthTitle:true}),
      contourChart(r[9],644,1086,548,706,bandsF,linesF,spikesF,labelsF,"Temperature Differences",{bottomAxis:true}),
      barChart(r[10]),
    ];
    return ()=>charts.forEach(c=>c.destroy());
  },[]);
  return (
    <div style={{position:"absolute",left:0,top:0,width:1130,height:822,overflow:"hidden",background:"#fff"}}>
      <div style={headingStyle(291)}>Prague, Czech Republic 1996-1997</div>
      <div style={headingStyle(864)}>Prague, Czech Republic 1999-2000</div>
      {Array.from({length:11}).map((_,i)=><canvas key={i} ref={el=>{refs.current[i]=el;}}/>)}
    </div>
  );
}
